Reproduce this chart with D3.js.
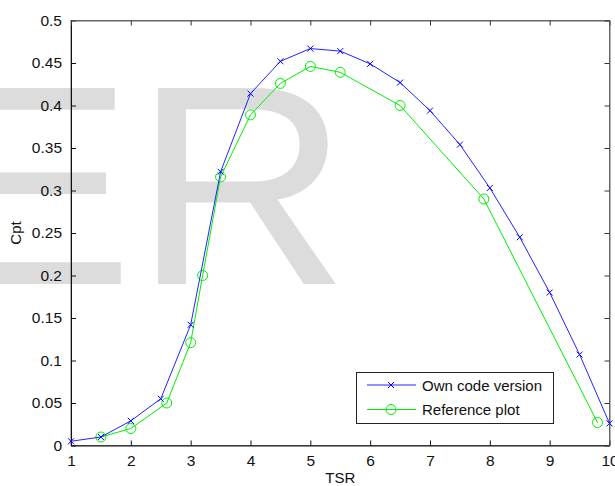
<!DOCTYPE html>
<html>
<head>
<meta charset="utf-8">
<script src="https://cdn.jsdelivr.net/npm/d3@7"></script>
<style>
  body { margin: 0; background: #fff; }
  svg text { font-family: "Liberation Sans", Arial, sans-serif; }
</style>
</head>
<body>
<div id="chart"></div>
<script>
// own code version (blue, x markers)
var ownTsr = [1, 1.5, 2, 2.5, 3, 3.5, 4, 4.5, 5, 5.5, 6, 6.5, 7, 7.5, 8, 8.5, 9, 9.5, 10];
var ownCp  = [0.005, 0.01, 0.029, 0.055, 0.142, 0.322, 0.414, 0.452, 0.467, 0.464, 0.449, 0.427, 0.394, 0.354, 0.303, 0.245, 0.18, 0.107, 0.026];

// reference plot (green, circles)
var refTsr = [1.5, 2, 2.6, 3, 3.2, 3.5, 4, 4.5, 5, 5.5, 6.5, 7.9, 9.8];
var refCp  = [0.01, 0.02, 0.05, 0.121, 0.2, 0.316, 0.389, 0.426, 0.446, 0.439, 0.4, 0.29, 0.027];

var xTicks = [1, 2, 3, 4, 5, 6, 7, 8, 9, 10];
var yTicks = [0, 0.05, 0.1, 0.15, 0.2, 0.25, 0.3, 0.35, 0.4, 0.45, 0.5];

var width = 615, height = 486;
var margin = {top: 20.5, right: 5.5, bottom: 40.5, left: 71};

var svg = d3.select("#chart").append("svg")
    .attr("width", width)
    .attr("height", height);

// big grey watermark behind everything
svg.append("text")
    .attr("transform", "translate(-66,284) scale(1.05,1)")
    .attr("font-size", 285)
    .attr("fill", "#dcdcdc")
    .text("ER");

var x = d3.scaleLinear().domain([1, 10]).range([margin.left, width - margin.right]);
var y = d3.scaleLinear().domain([0, 0.5]).range([height - margin.bottom, margin.top]);

// box
svg.append("rect")
    .attr("x", x(1)).attr("y", y(0.5))
    .attr("width", x(10) - x(1)).attr("height", y(0) - y(0.5))
    .attr("fill", "none").attr("stroke", "#666");

var axisFont = function(g) {
  g.selectAll("text").attr("font-size", 15.5).attr("fill", "#111")
    .attr("font-family", "Liberation Sans, Arial, sans-serif");
  g.select(".domain").attr("stroke", "#111");
  g.selectAll(".tick line").attr("stroke", "#111");
};

svg.append("g")
    .attr("transform", "translate(0," + y(0) + ")")
    .call(d3.axisBottom(x).tickValues(xTicks).tickFormat(d3.format("d")).tickSizeInner(-5).tickSizeOuter(0).tickPadding(9))
    .call(axisFont);

svg.append("g")
    .attr("transform", "translate(" + x(1) + ",0)")
    .call(d3.axisLeft(y).tickValues(yTicks).tickFormat(function(d) { return d3.format("")(+d.toFixed(2)); }).tickSizeInner(-5).tickSizeOuter(0).tickPadding(9))
    .call(axisFont);

// mirror ticks on top and right
svg.append("g")
    .attr("transform", "translate(0," + y(0.5) + ")")
    .call(d3.axisTop(x).tickValues(xTicks).tickSizeInner(-5).tickSizeOuter(0).tickFormat(""))
    .call(function(g) { g.select(".domain").attr("stroke", "#666"); g.selectAll(".tick line").attr("stroke", "#333"); });

svg.append("g")
    .attr("transform", "translate(" + x(10) + ",0)")
    .call(d3.axisRight(y).tickValues(yTicks).tickSizeInner(-5).tickSizeOuter(0).tickFormat(""))
    .call(function(g) { g.select(".domain").attr("stroke", "#666"); g.selectAll(".tick line").attr("stroke", "#333"); });

// axis labels
svg.append("text")
    .attr("x", (x(1) + x(10)) / 2)
    .attr("y", 483)
    .attr("text-anchor", "middle")
    .attr("font-size", 15)
    .attr("fill", "#111")
    .text("TSR");

svg.append("text")
    .attr("transform", "translate(21," + ((y(0) + y(0.5)) / 2) + ") rotate(-90)")
    .attr("text-anchor", "middle")
    .attr("font-size", 15)
    .attr("fill", "#111")
    .text("Cpt");

var line = d3.line().x(function(d) { return x(d[0]); }).y(function(d) { return y(d[1]); });

var ownData = d3.zip(ownTsr, ownCp);
var refData = d3.zip(refTsr, refCp);

function crossPath(s) {
  return "M" + (-s) + "," + (-s) + "L" + s + "," + s + "M" + (-s) + "," + s + "L" + s + "," + (-s);
}

// reference plot
svg.append("path")
    .datum(refData)
    .attr("d", line)
    .attr("fill", "none")
    .attr("stroke", "#00ee00")
    .attr("stroke-width", 1);

svg.append("g")
    .selectAll("circle")
    .data(refData)
    .enter()
    .append("circle")
    .attr("cx", function(d) { return x(d[0]); })
    .attr("cy", function(d) { return y(d[1]); })
    .attr("r", 5)
    .attr("fill", "none")
    .attr("stroke", "#00ee00")
    .attr("stroke-width", 1);

// own code version
svg.append("path")
    .datum(ownData)
    .attr("d", line)
    .attr("fill", "none")
    .attr("stroke", "#2222ff")
    .attr("stroke-width", 1);

svg.append("g")
    .selectAll("path")
    .data(ownData)
    .enter()
    .append("path")
    .attr("transform", function(d) { return "translate(" + x(d[0]) + "," + y(d[1]) + ")"; })
    .attr("d", crossPath(3))
    .attr("stroke", "#0000ff")
    .attr("stroke-width", 1);

// legend
var legend = svg.append("g");
legend.append("rect")
    .attr("x", 356.5).attr("y", 372.5)
    .attr("width", 197).attr("height", 51)
    .attr("fill", "#fff")
    .attr("stroke", "#222");

legend.append("line")
    .attr("x1", 367).attr("x2", 416).attr("y1", 385).attr("y2", 385)
    .attr("stroke", "#2222ff");
legend.append("path")
    .attr("transform", "translate(391,385)")
    .attr("d", crossPath(3))
    .attr("stroke", "#0000ff");
legend.append("text")
    .attr("x", 422).attr("y", 390.5)
    .attr("font-size", 15)
    .attr("fill", "#111")
    .text("Own code version");

legend.append("line")
    .attr("x1", 367).attr("x2", 416).attr("y1", 409.5).attr("y2", 409.5)
    .attr("stroke", "#00ee00");
legend.append("circle")
    .attr("cx", 391).attr("cy", 409.5).attr("r", 5)
    .attr("fill", "none")
    .attr("stroke", "#00ee00");
legend.append("text")
    .attr("x", 422).attr("y", 415)
    .attr("font-size", 15)
    .attr("fill", "#111")
    .text("Reference plot");
</script>
</body>
</html>
